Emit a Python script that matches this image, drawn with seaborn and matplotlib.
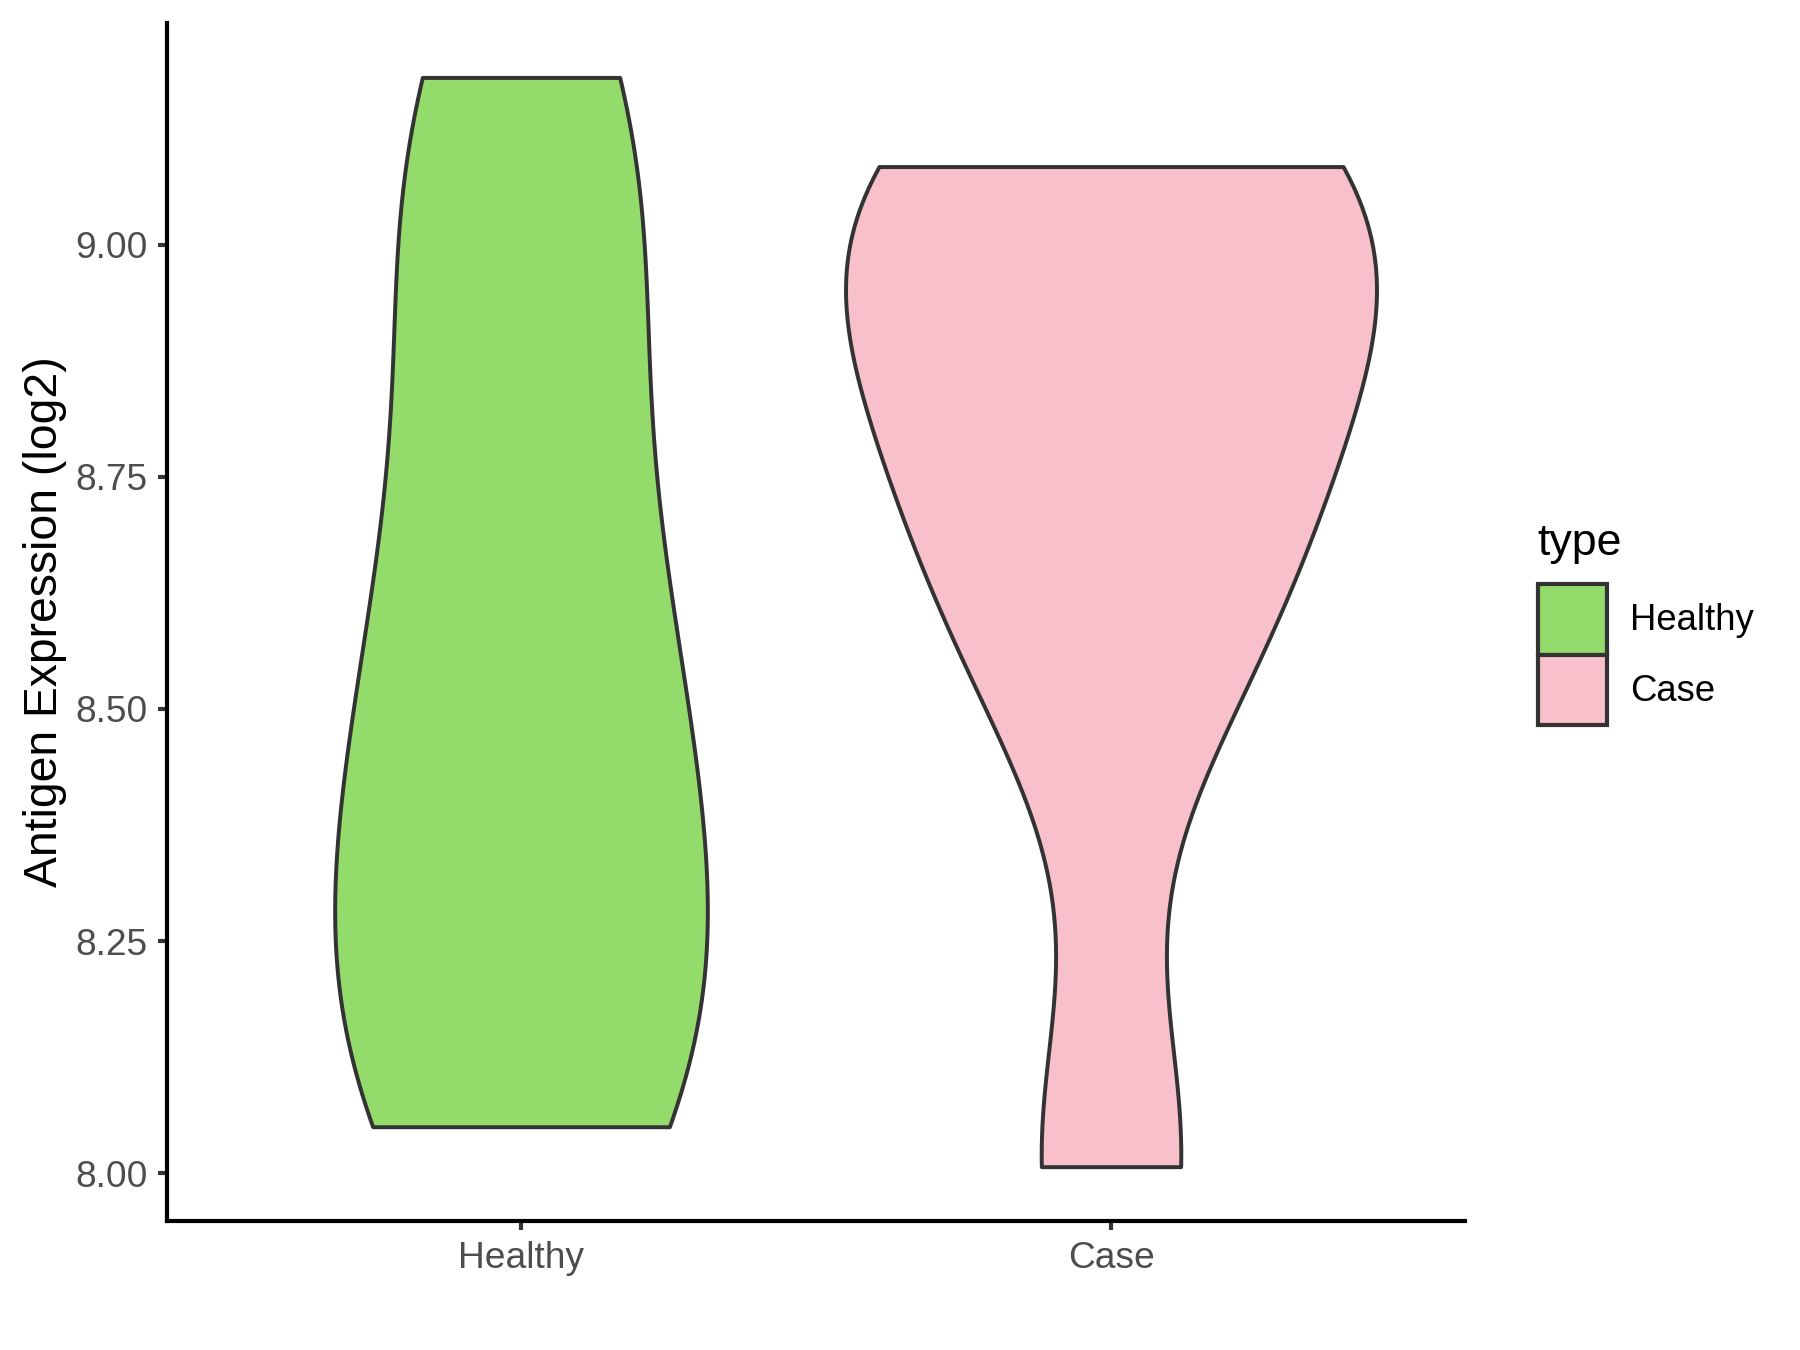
import numpy as np
import pandas as pd
import matplotlib
matplotlib.use("Agg")
import matplotlib.pyplot as plt
from matplotlib.patches import Patch
import seaborn as sns

# ---- data ----
categories = ["Healthy", "Case"]
healthy_values = [8.05, 8.07, 8.15, 8.26, 8.37, 8.48, 8.60, 8.73, 8.97, 9.09, 9.18]
case_values = [8.007, 8.53, 8.70, 8.83, 8.99, 9.06, 9.084]
palette_colors = ["#93DB6B", "#F8C0CB"]
y_ticks = [8.00, 8.25, 8.50, 8.75, 9.00]
y_label = "Antigen Expression (log2)"
legend_title = "type"

df = pd.DataFrame({
    "type": ["Healthy"] * len(healthy_values) + ["Case"] * len(case_values),
    "value": healthy_values + case_values,
})


def nrd0(kde):
    """R's default bandwidth (bw.nrd0), returned as a gaussian_kde factor."""
    x = np.asarray(kde.dataset).ravel()
    sd = x.std(ddof=1)
    q75, q25 = np.percentile(x, [75, 25])
    h = 0.9 * min(sd, (q75 - q25) / 1.34) * len(x) ** (-0.2)
    return h / sd


plt.rcParams["font.family"] = ["Liberation Sans", "DejaVu Sans"]

fig = plt.figure(figsize=(12, 9), dpi=150)
ax = fig.add_axes([167 / 1800, 1 - 1221 / 1350, (1465 - 167) / 1800, (1221 - 23) / 1350])

sns.violinplot(
    data=df, x="type", y="value", hue="type",
    order=categories, hue_order=categories,
    palette=dict(zip(categories, palette_colors)),
    dodge=False, cut=0, inner=None, density_norm="area", common_norm=True,
    width=0.9, bw_method=nrd0, linewidth=1.9, linecolor="#333333",
    saturation=1, legend=False, ax=ax,
)

ax.set_xlim(-0.6, 1.6)
ax.set_ylim(7.9485, 9.2386)
ax.set_yticks(y_ticks)
ax.set_yticklabels([f"{v:.2f}" for v in y_ticks])
ax.set_xlabel("")
ax.set_ylabel(y_label, fontsize=22.2, labelpad=4, color="black")

for side in ["top", "right"]:
    ax.spines[side].set_visible(False)
for side in ["left", "bottom"]:
    ax.spines[side].set_color("black")
    ax.spines[side].set_linewidth(2)

ax.tick_params(axis="both", direction="out", length=4.3, width=2,
               color="#333333", labelsize=17.8, labelcolor="#4D4D4D")
ax.tick_params(axis="y", pad=5)
ax.tick_params(axis="x", pad=5.5)
ax.grid(False)
ax.set_facecolor("white")

handles = [Patch(facecolor=c, edgecolor="#333333", linewidth=2) for c in palette_colors]
fig.legend(handles, categories, loc="upper left",
           bbox_to_anchor=(1538 / 1800, 1 - 584 / 1350),
           frameon=False, fontsize=17.5, handlelength=1.9, handleheight=2.6,
           labelspacing=0, handletextpad=0.62, borderpad=0, borderaxespad=0)
fig.text(1537 / 1800, 1 - 555 / 1350, legend_title, fontsize=21.5,
         ha="left", va="baseline", color="black")

fig.savefig("out.png", dpi=150, facecolor="white")
